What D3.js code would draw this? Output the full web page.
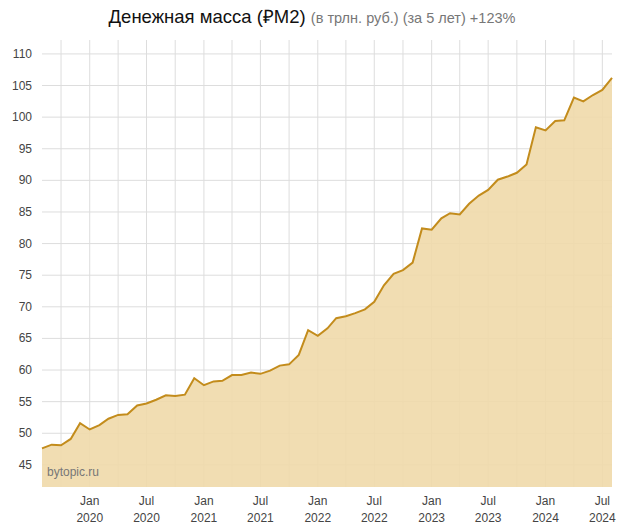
<!DOCTYPE html>
<html><head><meta charset="utf-8">
<script src="https://cdn.jsdelivr.net/npm/d3@7"></script>
<style>body{margin:0;background:#fff;font-family:"Liberation Sans",Arial,sans-serif}</style>
</head><body><svg id="c" width="623" height="527"></svg>
<script>
// monthly values, Aug 2019 .. Aug 2024
var startMonth = [2019, 7];
var values = [47.6,48.2,48.1,49.1,51.6,50.6,51.3,52.3,52.9,53.0,54.4,54.7,
  55.3,56.0,55.9,56.1,58.7,57.6,58.2,58.3,59.2,59.2,59.6,59.4,
  59.9,60.7,60.9,62.4,66.3,65.4,66.6,68.2,68.5,69.0,69.6,70.8,
  73.4,75.2,75.8,77.0,82.4,82.2,84.0,84.8,84.6,86.3,87.6,88.5,
  90.1,90.6,91.2,92.5,98.4,97.9,99.4,99.5,103.1,102.5,103.5,104.3,106.2];
var yTicks = [45,50,55,60,65,70,75,80,85,90,95,100,105,110];
var xLabels = ["Jan 2020","Jul 2020","Jan 2021","Jul 2021","Jan 2022","Jul 2022","Jan 2023","Jul 2023","Jan 2024","Jul 2024"];

var data = values.map(function(v, i) {
  return {date: new Date(startMonth[0], startMonth[1] + i, 1), v: v};
});
var svg = d3.select('#c');
var L = 42, R = 612, T = 40, B = 487;
var x = d3.scaleTime().domain(d3.extent(data, function(d) { return d.date; })).range([L, R]);
var y = d3.scaleLinear().domain([41.5, 112.2]).range([B, T]);

// grid
var gridMonths = d3.timeMonth.every(3).range(new Date(2019, 9, 1), new Date(2024, 8, 1));
svg.selectAll('.vg').data(gridMonths).enter().append('line')
  .attr('x1', function(d) { return x(d); }).attr('x2', function(d) { return x(d); })
  .attr('y1', T).attr('y2', B).attr('stroke', '#ddd');
svg.selectAll('.hg').data(yTicks).enter().append('line')
  .attr('x1', L).attr('x2', R).attr('y1', function(d) { return y(d); }).attr('y2', function(d) { return y(d); })
  .attr('stroke', '#ddd');

svg.append('path').datum(data)
  .attr('d', d3.area().x(function(d) { return x(d.date); }).y0(B).y1(function(d) { return y(d.v); }))
  .attr('fill', '#f0d9aa').attr('fill-opacity', 0.9);
svg.append('path').datum(data)
  .attr('d', d3.line().x(function(d) { return x(d.date); }).y(function(d) { return y(d.v); }))
  .attr('fill', 'none').attr('stroke', '#c38c1c').attr('stroke-width', 2);

svg.selectAll('.yl').data(yTicks).enter().append('text')
  .attr('x', 32).attr('y', function(d) { return y(d) + 4; }).attr('text-anchor', 'end')
  .attr('font-size', 12).attr('fill', '#444').text(function(d) { return d; });

var labelDates = xLabels.map(function(s, i) { return new Date(2020, i * 6, 1); });
labelDates.forEach(function(d, i) {
  var parts = xLabels[i].split(' ');
  var t = svg.append('text').attr('x', x(d)).attr('text-anchor', 'middle')
    .attr('font-size', 12).attr('fill', '#444');
  t.append('tspan').attr('x', x(d)).attr('y', 505).text(parts[0]);
  t.append('tspan').attr('x', x(d)).attr('y', 522).text(parts[1]);
});

svg.append('text').attr('x', 47).attr('y', 476).attr('font-size', 12).attr('fill', '#777').text('bytopic.ru');

var title = svg.append('text').attr('x', 312).attr('y', 23).attr('text-anchor', 'middle');
title.append('tspan').attr('font-size', 18.5).attr('fill', '#111').text('Денежная масса (₽M2) ');
title.append('tspan').attr('font-size', 14.5).attr('fill', '#777').text('(в трлн. руб.) (за 5 лет) +123%');
</script></body></html>
